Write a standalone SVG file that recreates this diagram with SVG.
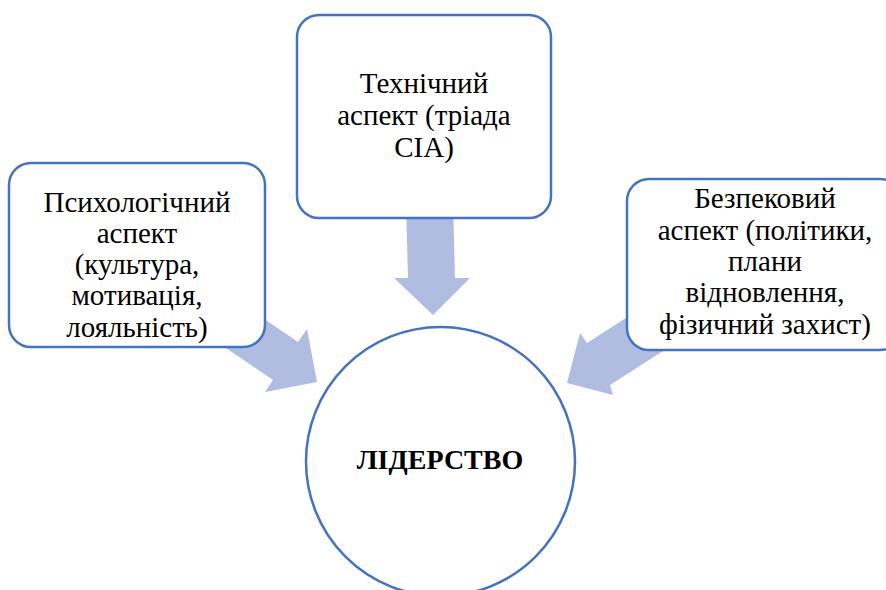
<svg xmlns="http://www.w3.org/2000/svg" width="886" height="590" viewBox="0 0 886 590">
<style>
.box{fill:#fff;stroke:#4472C4;stroke-width:2.5}
.arr{fill:#B0BDE0}
</style>
<rect width="886" height="590" fill="#fff"/>
<g id="connectors">
<polygon class="arr" points="406,200 453,200 455,278 470,278 433,315 394,278 408,278"/>
<polygon class="arr" points="232,297 298,342 307,329 317,382 265,392 273,380 207,335"/>
<polygon class="arr" points="654,300 587,343 580,333 567,383 613,395 610,385 677,342"/>
</g>
<g font-family="Liberation Serif, Times New Roman, serif" font-size="29" fill="#000" text-anchor="middle">
<g id="tech">
<rect class="box" x="297" y="15" width="254" height="203" rx="22"/>
<text x="424" y="93">Технічний</text>
<text x="424" y="125">аспект (тріада</text>
<text x="424" y="157">CIA)</text>
</g>
<g id="psych">
<rect class="box" x="9" y="163" width="256" height="184" rx="22"/>
<text x="137" y="212">Психологічний</text>
<text x="137" y="243">аспект</text>
<text x="137" y="274">(культура,</text>
<text x="137" y="305">мотивація,</text>
<text x="137" y="337">лояльність)</text>
</g>
<g id="sec">
<rect class="box" x="627" y="179" width="275" height="171" rx="22"/>
<text x="765" y="208">Безпековий</text>
<text x="765" y="240">аспект (політики,</text>
<text x="765" y="271">плани</text>
<text x="765" y="302">відновлення,</text>
<text x="765" y="334">фізичний захист)</text>
</g>
<g id="leader">
<circle class="box" cx="440.5" cy="461.5" r="134.5"/>
<text x="440" y="469" font-weight="bold" font-size="28">ЛІДЕРСТВО</text>
</g>
</g>
</svg>
